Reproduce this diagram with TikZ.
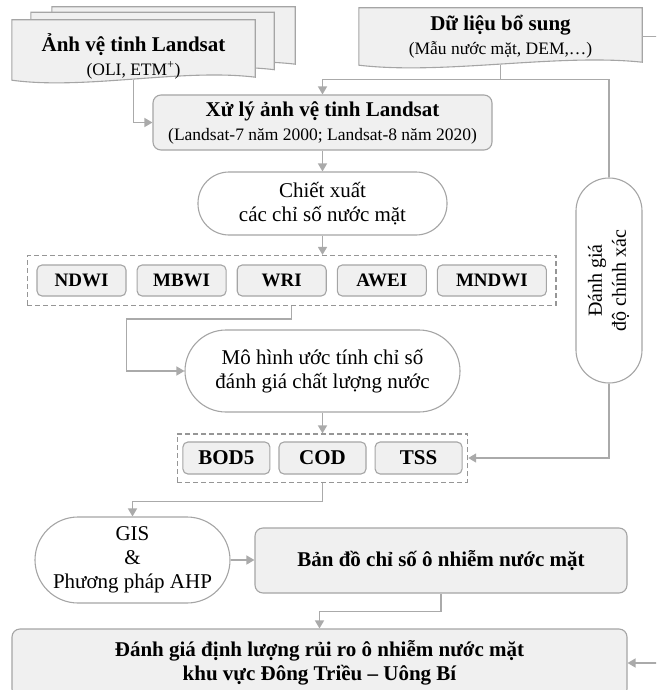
\documentclass[tikz,border=0pt]{standalone}
\usepackage{fontspec}
\setmainfont{Liberation Serif}
\usepackage{graphicx}
\usepackage{tikz}
\usetikzlibrary{arrows.meta, positioning, calc, fit, backgrounds}
\definecolor{cLine}{RGB}{170,170,170}
\definecolor{cBorder}{RGB}{165,165,165}
\definecolor{cFill}{RGB}{240,240,240}
\definecolor{cDash}{RGB}{150,150,150}
\newcommand{\chu}{\fontsize{21}{24}\selectfont}
\newcommand{\phu}[1]{{\fontsize{17.5}{20}\selectfont\mdseries #1}}
\tikzset{
	sheet/.style   ={rectangle, minimum width=243pt, minimum height=60pt, inner sep=0pt, align=center, font=\chu\bfseries},
	sheetline/.style={draw=cBorder, fill=cFill, line width=1.1pt},
	procbox/.style ={rectangle, rounded corners=8pt, draw=cBorder, fill=cFill, line width=1.1pt, align=center, inner sep=2pt, font=\chu\bfseries},
	oval/.style    ={rectangle, draw=cBorder, fill=white, line width=1.1pt, align=center, inner sep=2pt, font=\chu},
	chiso/.style   ={procbox, rounded corners=5pt, minimum width=89pt, minimum height=31pt, font=\fontsize{19}{22}\selectfont\bfseries},
	nhom/.style    ={draw=cDash, line width=1.1pt, dash pattern=on 5pt off 3pt, inner sep=9pt},
	arr/.style     ={-{Triangle[length=8pt, width=9pt]}, draw=cLine, line width=1.5pt},
	noi/.style     ={draw=cLine, line width=1.5pt},
}
% wavy-bottom outline of a document sheet
\newcommand{\wavy}[1]{%
	\path[sheetline] (#1.north west) -- (#1.north east) -- ([yshift=3pt]#1.south east)
		.. controls ($(#1.south west)!0.7!(#1.south east)+(0,-12)$) and ($(#1.south west)!0.3!(#1.south east)+(0,10)$) .. (#1.south west) -- cycle;}

\begin{document}
\begin{tikzpicture}[x=1pt, y=-1pt]
	\useasboundingbox (0,0) rectangle (656,690);
	\clip (0,0) rectangle (656,690);
	% input data
	\node[sheet] (anhC) at (173.5,37) {};
	\node[sheet] (anhB) at (152.5,42.5) {};
	\node[sheet, label={[font=\chu\bfseries, align=center, yshift=-6pt]center:Ảnh vệ tinh Landsat\\\phu{(OLI, ETM\textsuperscript{+})}}] (anh) at (133.5,50) {};
	\node[sheet, minimum width=283pt, minimum height=57pt] (bosung) at (500.5,36.5) {Dữ liệu bổ sung\\\phu{(Mẫu nước mặt, DEM,…)}};
	\begin{scope}[on background layer]
		\foreach \n in {anhC, anhB, anh, bosung} {\wavy{\n}}
	\end{scope}
	% processing chain
	\node[procbox, minimum width=339pt, minimum height=55pt] (xuly) at (322.5,122.5) {Xử lý ảnh vệ tinh Landsat\\\phu{(Landsat-7 năm 2000; Landsat-8 năm 2020)}};
	\node[oval, minimum width=249pt, minimum height=63pt, rounded corners=31pt] (chietxuat) at (322.5,203.5) {Chiết xuất\\các chỉ số nước mặt};
	\node[chiso] (ndwi) at (81.5,280.5) {NDWI};
	\node[chiso, right=10pt of ndwi] (mbwi) {MBWI};
	\node[chiso, right=10pt of mbwi] (wri) {WRI};
	\node[chiso, right=10pt of wri] (awei) {AWEI};
	\node[chiso, right=10pt of awei, minimum width=109pt] (mndwi) {MNDWI};
	\node[nhom, fit=(ndwi)(mndwi)] (nhom1) {};
	\node[oval, minimum width=275pt, minimum height=82pt, rounded corners=41pt] (mohinh) at (322.5,371) {Mô hình ước tính chỉ số\\đánh giá chất lượng nước};
	\node[chiso, minimum width=87pt, minimum height=32pt, font=\chu\bfseries] (cod) at (322.5,458) {COD};
	\node[chiso, minimum width=87pt, minimum height=32pt, font=\chu\bfseries, left=8pt of cod] (bod) {BOD5};
	\node[chiso, minimum width=87pt, minimum height=32pt, font=\chu\bfseries, right=8pt of cod] (tss) {TSS};
	\node[nhom, inner xsep=5pt, inner ysep=7.5pt, fit=(bod)(tss)] (nhom2) {};
	\node[oval, minimum width=66pt, minimum height=205pt, rounded corners=33pt, font=\fontsize{20}{24}\selectfont] (danhgia) at (609,280.5) {\rotatebox{90}{\begin{tabular}{@{}c@{}}Đánh giá\\độ chính xác\end{tabular}}};
	\node[oval, minimum width=195pt, minimum height=86pt, rounded corners=43pt, inner sep=0pt] (gis) at (132.5,560) {GIS\\\&\\Phương pháp AHP};
	\node[procbox, minimum width=372pt, minimum height=65pt] (bando) at (441,560.5) {Bản đồ chỉ số ô nhiễm nước mặt};
	\node[procbox, minimum width=615pt, minimum height=68pt] (cuoi) at (319.5,663) {Đánh giá định lượng rủi ro ô nhiễm nước mặt\\khu vực Đông Triều – Uông Bí};
	% connectors
	\coordinate (re) at ([yshift=15pt]xuly.north);
	\draw[arr] (bosung.south) |- (re) -- (xuly.north);
	\draw[noi] (bosung.south) |- (re -| danhgia.north) -- (danhgia.north);
	\draw[arr] (bosung.east) -- ++(40,0) |- (cuoi.east);
	\draw[arr] (anh.south) |- (xuly.west);
	\draw[arr] (xuly.south) -- (chietxuat.north);
	\draw[arr] (chietxuat.south) -- (chietxuat.south |- nhom1.north);
	\draw[arr] (nhom1.south) -- ++(0,13) -| ([xshift=-58pt]mohinh.west) -- (mohinh.west);
	\draw[arr] (mohinh.south) -- (mohinh.south |- nhom2.north);
	\draw[arr] (danhgia.south) |- (nhom2.east);
	\draw[arr] (nhom2.south) -- ++(0,19) -| (gis.north);
	\draw[arr] (gis.east) -- (gis.east -| bando.west);
	\draw[arr] (bando.south) -- ++(0,18) -| (cuoi.north);
\end{tikzpicture}
\end{document}
